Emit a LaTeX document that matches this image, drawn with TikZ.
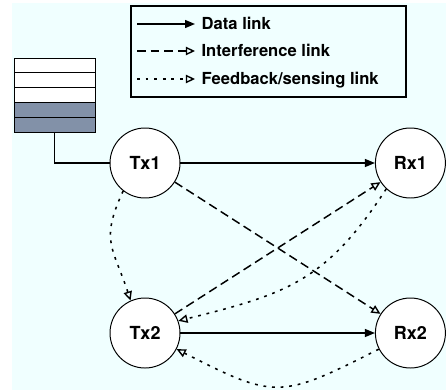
\documentclass[tikz,border=0pt]{standalone}
\usepackage{fontspec}
\setmainfont{TeX Gyre Heros}
\usetikzlibrary{arrows.meta}

\definecolor{bgcyan}{RGB}{240,255,255}
\definecolor{slotgray}{RGB}{130,145,168}

\tikzset{
  station/.style={circle,draw,fill=white,line width=0.7pt,minimum size=1.75cm,inner sep=0pt,
    font=\fontsize{12.8}{14}\selectfont\bfseries},
  slot/.style={draw,line width=0.7pt,minimum width=2.025cm,minimum height=0.37cm,inner sep=0pt,outer sep=0pt},
  datalink/.style={line width=1pt,-{Triangle[length=2.5mm,width=2mm]}},
  interf/.style={line width=1.05pt,dash pattern=on 2.2mm off 1.2mm,
    -{Triangle[open,length=2.3mm,width=2.1mm,line width=1pt]}},
  feedback/.style={line width=1.1pt,dash pattern=on 0.7mm off 1.45mm,
    -{Triangle[open,length=2.3mm,width=2.1mm,line width=1pt]}},
  legtext/.style={anchor=west,inner sep=4.5pt,text height=8.5pt,text depth=0pt,
    font=\fontsize{11.8}{13}\selectfont\bfseries}
}

\begin{document}
\begin{tikzpicture}[x=1cm,y=1cm]
  \useasboundingbox (0,0) rectangle (11.15,9.775);
  \fill[bgcyan] (0.3,0.025) rectangle (11.15,9.7);

  % Legend
  \draw[line width=0.9pt] (3.275,7.35) rectangle (10.15,9.625);
  \node[legtext] (lgdata) at (4.875,9.175) {Data link};
  \node[legtext] (lginterf) at (4.875,8.5) {Interference link};
  \node[legtext] (lgfeed) at (4.875,7.8) {Feedback/sensing link};
  \coordinate (ldata) at (3.425,9.175);
  \coordinate (linterf) at (3.425,8.5);
  \coordinate (lfeed) at (3.425,7.8);
  \draw[datalink] (ldata) -- (lgdata.west);
  \draw[interf] (linterf) -- (lginterf.west);
  \draw[feedback] (lfeed) -- (lgfeed.west);

  % Queue
  \foreach \i in {0,1,2}
    \node[slot,fill=white] (q\i) at (1.3625,{8.14-0.37*\i}) {};
  \foreach \i in {3,4}
    \node[slot,fill=slotgray] (q\i) at (1.3625,{8.14-0.37*\i}) {};

  % Stations
  \node[station] (Tx1) at (3.625,5.7) {Tx1};
  \node[station] (Rx1) at (10.26,5.7) {Rx1};
  \node[station] (Tx2) at (3.625,1.45) {Tx2};
  \node[station] (Rx2) at (10.26,1.45) {Rx2};

  \draw[line width=1pt] (q4.south) |- (Tx1);

  % Links
  \draw[datalink] (Tx1) -- (Rx1);
  \draw[datalink] (Tx2) -- (Rx2);
  \draw[interf] (Tx1) -- (Rx2);
  \draw[interf] (Tx2) -- (Rx1);
  \draw[feedback] (Tx1.232) to[out=245,in=108,looseness=1.3] (Tx2.114);
  \draw[feedback] (Rx1.227) to[out=237,in=14,looseness=1.15] (Tx2.20);
  \draw[feedback] (Rx2.207) to[out=207,in=333,looseness=1.4] (Tx2.333);
\end{tikzpicture}
\end{document}
